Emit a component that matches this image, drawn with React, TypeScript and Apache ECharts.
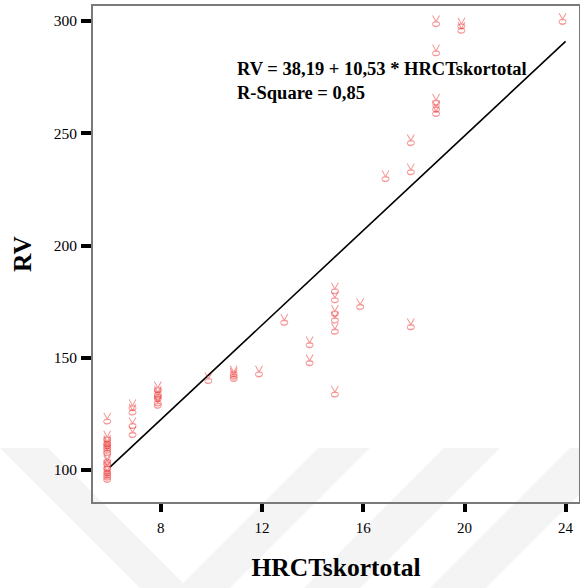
import React, { useEffect, useRef } from "react";
import * as echarts from "echarts";

// HRCT total score (x) and RV (y)
const hrctScores = [
  6, 6, 6, 6, 6, 6, 6, 6, 6, 6, 6, 6, 6, 6,
  7, 7, 7, 7,
  8, 8, 8, 8, 8, 8,
  10,
  11, 11, 11,
  12,
  13,
  14, 14,
  15, 15, 15, 15, 15, 15,
  16,
  17,
  18, 18, 18,
  19, 19, 19, 19, 19,
  20, 20,
  24,
];
const rvValues = [
  123, 115, 113, 112, 111, 110, 109, 105, 104, 102, 100, 99, 98, 97,
  129, 127, 121, 117,
  137, 135, 134, 133, 131, 130,
  141,
  144, 143, 142,
  144,
  167,
  157, 149,
  181, 177, 171, 168, 163, 135,
  174,
  231,
  247, 234, 165,
  300, 287, 265, 262, 260,
  299, 297,
  301,
];

// fitted line end points
const fitX = [6, 24];
const fitY = [101.4, 290.9];

const xTickValues = [8, 12, 16, 20, 24];
const yTickValues = [100, 150, 200, 250, 300];

const equationLines = ["RV = 38,19 + 10,53 * HRCTskortotal", "R-Square = 0,85"];

const SERIF = '"Liberation Serif", "Times New Roman", serif';
const MARKER =
  "path://M1,0 L3.5,6.5 L6,0 M1,9 A2.5,2.5 0 1,0 6,9 A2.5,2.5 0 1,0 1,9 Z";

export default function App() {
  const ref = useRef<HTMLDivElement>(null);
  useEffect(() => {
    if (!ref.current) return;
    const chart = echarts.init(ref.current, undefined, { renderer: "svg" });
    const wm = "#f4f4f4";
    chart.setOption({
      animation: false,
      backgroundColor: "#ffffff",
      grid: {
        left: 92,
        top: 5,
        right: -3,
        bottom: 85,
        show: true,
        borderColor: "#7a7a7a",
        borderWidth: 2,
        backgroundColor: "transparent",
        z: 1,
      },
      graphic: [
        {
          type: "polygon",
          z: -10,
          silent: true,
          shape: {
            points: [
              [0, 448], [48, 448], [183, 583], [318, 448], [370, 448],
              [230, 588], [140, 588], [0, 448],
            ],
          },
          style: { fill: wm },
        },
        {
          type: "polygon",
          z: -10,
          silent: true,
          shape: { points: [[444, 448], [500, 448], [360, 588], [304, 588]] },
          style: { fill: wm },
        },
        {
          type: "polygon",
          z: -10,
          silent: true,
          shape: { points: [[570, 448], [626, 448], [486, 588], [430, 588]] },
          style: { fill: wm },
        },
        {
          type: "text",
          z: 10,
          x: 237,
          y: 69,
          style: {
            text: equationLines[0],
            font: `bold 18.5px ${SERIF}`,
            fill: "#000",
            verticalAlign: "middle",
          },
        },
        {
          type: "text",
          z: 10,
          x: 237,
          y: 92.5,
          style: {
            text: equationLines[1],
            font: `bold 18.5px ${SERIF}`,
            fill: "#000",
            verticalAlign: "middle",
          },
        },
      ],
      xAxis: {
        type: "value",
        min: 5.28,
        max: 24.57,
        name: "HRCTskortotal",
        nameLocation: "middle",
        nameGap: 51,
        nameTextStyle: {
          fontFamily: SERIF,
          fontWeight: "bold",
          fontSize: 25.5,
          color: "#000",
        },
        axisLine: { show: false },
        splitLine: { show: false },
        axisTick: {
          show: true,
          length: 9,
          lineStyle: { color: "#000", width: 4 },
          customValues: xTickValues,
        },
        axisLabel: {
          fontFamily: SERIF,
          fontSize: 15,
          color: "#000",
          margin: 17,
          customValues: xTickValues,
        },
      },
      yAxis: {
        type: "value",
        min: 85.3,
        max: 307.1,
        name: "RV",
        nameLocation: "middle",
        nameGap: 57,
        nameRotate: 90,
        nameTextStyle: {
          fontFamily: SERIF,
          fontWeight: "bold",
          fontSize: 25.5,
          color: "#000",
        },
        axisLine: { show: false },
        splitLine: { show: false },
        axisTick: {
          show: true,
          length: 11,
          lineStyle: { color: "#000", width: 4 },
          customValues: yTickValues,
        },
        axisLabel: {
          fontFamily: SERIF,
          fontSize: 15.5,
          color: "#000",
          margin: 15,
          customValues: yTickValues,
        },
      },
      series: [
        {
          type: "line",
          data: fitX.map((x, i) => [x, fitY[i]]),
          showSymbol: false,
          symbol: "none",
          lineStyle: { color: "#000", width: 1.6 },
          z: 3,
        },
        {
          type: "scatter",
          data: hrctScores.map((x, i) => [x, rvValues[i]]),
          symbol: MARKER,
          symbolSize: [7, 11],
          symbolOffset: [-3, 0],
          itemStyle: {
            color: "rgba(0,0,0,0)",
            borderColor: "rgba(235,55,55,0.65)",
            borderWidth: 1.1,
          },
          z: 4,
        },
      ],
    });
    return () => chart.dispose();
  }, []);
  return (
    <div
      ref={ref}
      style={{ position: "fixed", left: 0, top: 0, width: 580, height: 588 }}
    />
  );
}
